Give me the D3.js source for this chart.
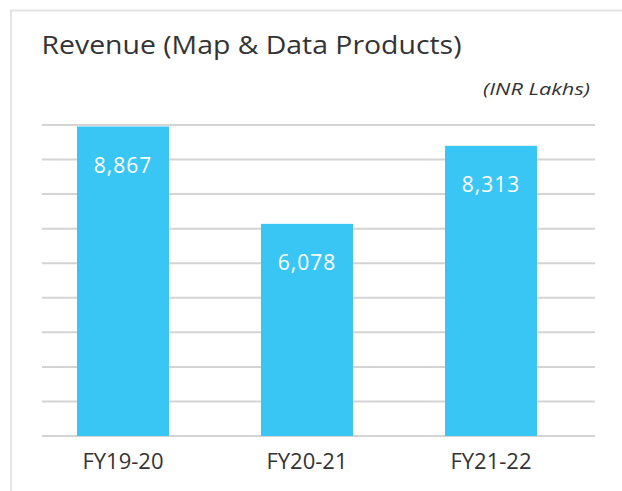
<!DOCTYPE html>
<html><head><meta charset="utf-8">
<script src="https://cdn.jsdelivr.net/npm/d3@7"></script>
<style>html,body{margin:0;padding:0;background:#fff;}svg{display:block;}</style>
</head><body>
<svg id="chart" width="622" height="491"></svg>
<script>
const categories = ["FY19-20", "FY20-21", "FY21-22"];
const values = [8867, 6078, 8313];
const valueLabels = ["8,867", "6,078", "8,313"];
const title = "Revenue (Map & Data Products)";
const unitLabel = "(INR Lakhs)";
const yMax = 8910;
const gridCount = 9;

const W = 622, H = 491;
const plot = {gridLeft: 42, gridRight: 595, barLeft: 31, barRight: 583, top: 125, bottom: 436};
const svg = d3.select("#chart");
const font = "'Open Sans', 'Noto Sans', sans-serif";

svg.append("rect").attr("x", 11).attr("y", 10.5).attr("width", 640).attr("height", 500)
  .attr("fill", "#fff").attr("stroke", "#e3e3e3").attr("stroke-width", 2);

const x = d3.scaleBand().domain(categories).range([plot.barLeft, plot.barRight])
  .paddingInner(0.5).paddingOuter(0.25);
const y = d3.scaleLinear().domain([0, yMax]).range([plot.bottom, plot.top]);

const gridVals = d3.range(gridCount + 1).map(i => yMax * i / gridCount);
svg.append("g").selectAll("line").data(gridVals).join("line")
  .attr("x1", plot.gridLeft).attr("x2", plot.gridRight)
  .attr("y1", d => y(d)).attr("y2", d => y(d))
  .attr("stroke", "#d4d4d4").attr("stroke-width", 2);

svg.append("g").selectAll("rect").data(values).join("rect")
  .attr("x", (d, i) => x(categories[i])).attr("width", x.bandwidth())
  .attr("y", d => y(d)).attr("height", d => y(0) - y(d))
  .attr("fill", "#39c6f4");

svg.append("g").selectAll("text").data(values).join("text")
  .attr("x", (d, i) => x(categories[i]) + x.bandwidth() / 2)
  .attr("y", d => y(d) + 46.5)
  .attr("text-anchor", "middle").attr("fill", "#fff")
  .style("font-family", font).style("font-size", "21px").style("letter-spacing", "1px")
  .text((d, i) => valueLabels[i]);

const xAxis = d3.axisBottom(x).tickSize(0).tickPadding(0);
const gx = svg.append("g").attr("transform", `translate(0,${plot.bottom})`).call(xAxis);
gx.select(".domain").remove();
gx.selectAll("text").attr("dy", null).attr("y", 32.5)
  .attr("fill", "#333").style("font-family", font).style("font-size", "22px");

svg.append("text").attr("x", 41.5).attr("y", 54).attr("fill", "#333")
  .attr("textLength", 420).attr("lengthAdjust", "spacingAndGlyphs")
  .style("font-family", font).style("font-size", "26px").text(title);
svg.append("text").attr("x", 483).attr("y", 95).attr("fill", "#333")
  .attr("textLength", 107).attr("lengthAdjust", "spacingAndGlyphs")
  .style("font-family", font).style("font-size", "17px").style("font-style", "italic").text(unitLabel);
</script>
</body></html>
